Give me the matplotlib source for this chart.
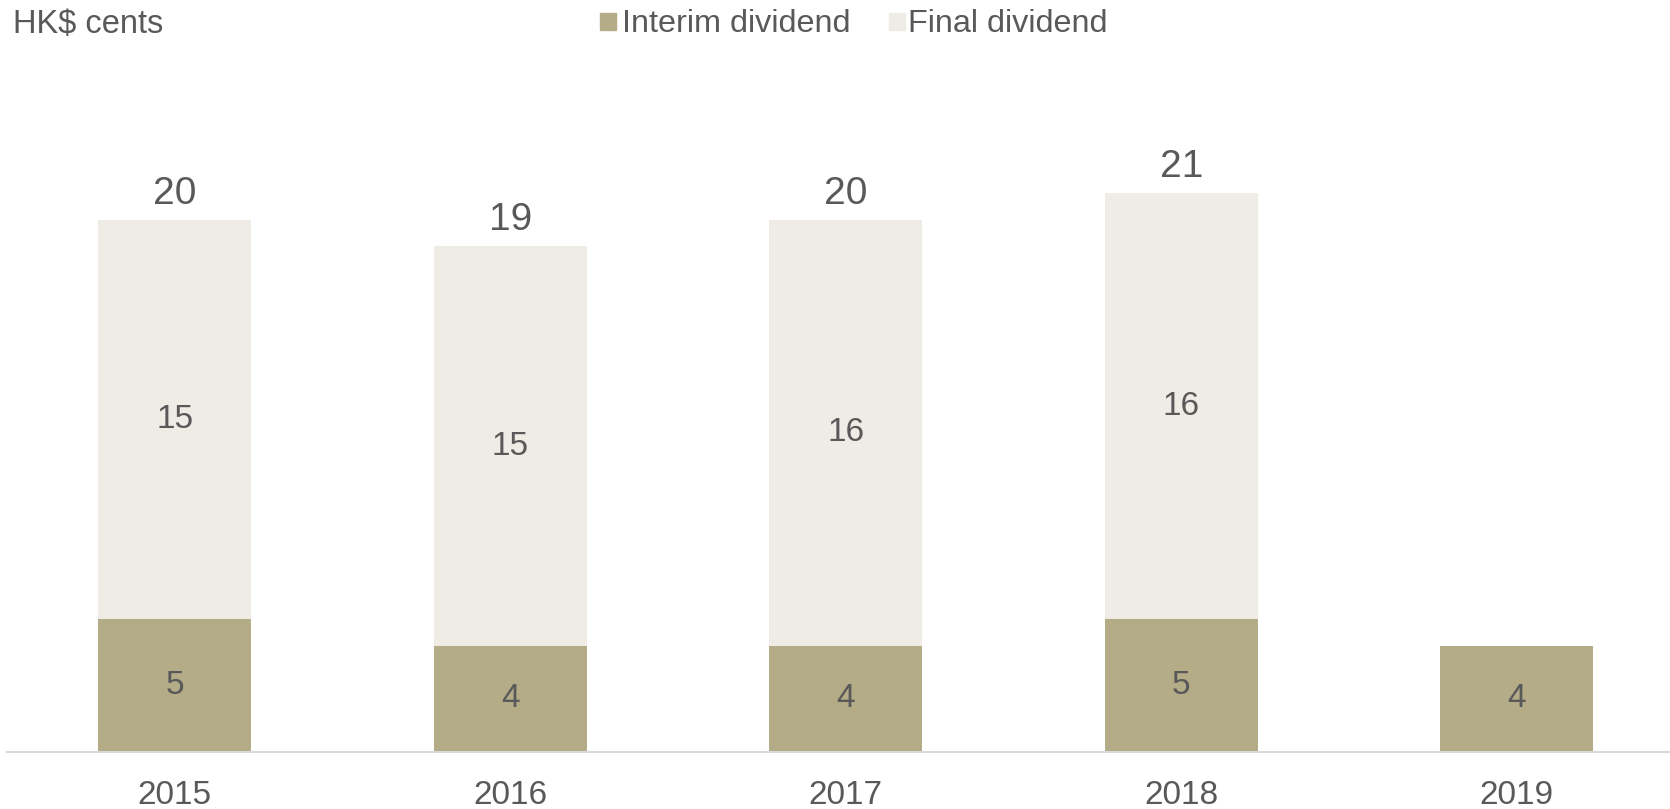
import matplotlib
matplotlib.use('Agg')
import matplotlib.pyplot as plt
from matplotlib.patches import Rectangle
import numpy as np

plt.rcParams['font.family'] = ['Liberation Sans', 'DejaVu Sans']

# data
years = ['2015', '2016', '2017', '2018', '2019']
interim = [5, 4, 4, 5, 4]
final = [15, 15, 16, 16, 0]
totals = [20, 19, 20, 21, None]

interim_color = '#B4AB87'
final_color = '#EFECE5'
text_color = '#595959'

W, H = 1670, 809
fig = plt.figure(figsize=(W / 100, H / 100), dpi=100)
# axes runs slightly past the right edge, like the original
ax = fig.add_axes([7 / W, 57 / H, 1677.5 / W, 745 / H])

x = np.arange(len(years))
w = 0.455
ax.bar(x, interim, w, color=interim_color)
ax.bar(x, final, w, bottom=interim, color=final_color)

# segment labels
for i in range(len(years)):
    ax.text(x[i], interim[i] / 2, str(interim[i]), ha='center', va='center',
            fontsize=24, color=text_color)
    if final[i]:
        ax.text(x[i], interim[i] + final[i] / 2, str(final[i]), ha='center',
                va='center', fontsize=24, color=text_color)
    if totals[i] is not None:
        ax.annotate(str(totals[i]), (x[i], totals[i]), xytext=(0, 11.5),
                    textcoords='offset points', ha='center', va='baseline',
                    fontsize=28, color=text_color)

ax.set_xlim(-0.5, len(years) - 0.5)
ax.set_ylim(0, 28)
ax.set_xticks(x)
ax.set_xticklabels(years, fontsize=24, color=text_color)
ax.tick_params(axis='x', length=0, pad=20)
ax.set_yticks([])
for s in ['top', 'right', 'left']:
    ax.spines[s].set_visible(False)
ax.spines['bottom'].set_color('#D9D9D9')
ax.spines['bottom'].set_linewidth(1.5)

fig.text(13 / W, 1 - 24 / H, 'HK$ cents', fontsize=23.5, color=text_color,
         ha='left', va='center')

# legend drawn by hand
legend_items = [('Interim dividend', interim_color, 600, 622),
                ('Final dividend', final_color, 889, 908)]
for label, col, sx, tx in legend_items:
    fig.patches.append(Rectangle((sx / W, 1 - 30 / H), 16 / W, 17 / H,
                                 transform=fig.transFigure, color=col))
    fig.text(tx / W, 1 - 24 / H, label, fontsize=23.3, color=text_color,
             ha='left', va='center')

fig.savefig('out.png', dpi=100)
